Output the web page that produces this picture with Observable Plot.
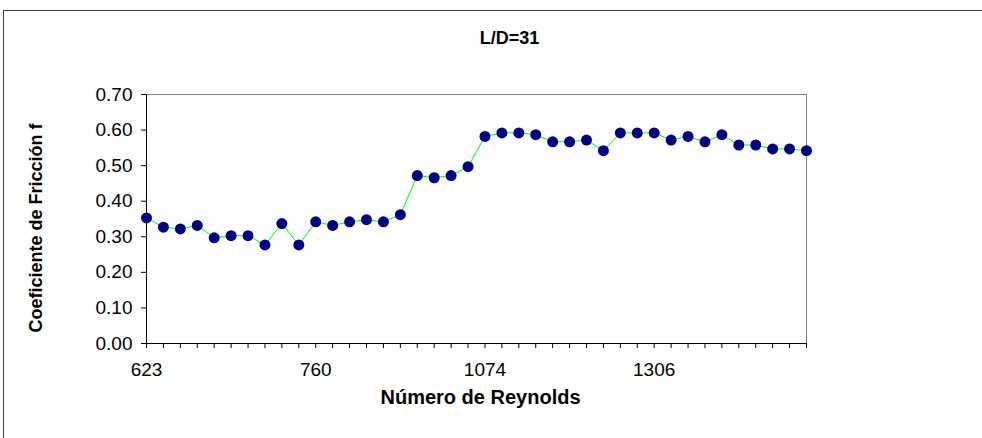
<!DOCTYPE html>
<html>
<head>
<meta charset="utf-8">
<script src="https://cdn.jsdelivr.net/npm/d3@7"></script>
<script src="https://cdn.jsdelivr.net/npm/@observablehq/plot@0.6"></script>
<style>
  html, body { margin: 0; padding: 0; background: #fff; }
  #wrap { position: relative; width: 982px; height: 438px; overflow: hidden; }
  #border { position: absolute; left: 3px; top: 10px; width: 990px; height: 450px; border: 1px solid #404040; box-sizing: border-box; pointer-events: none; }
</style>
</head>
<body>
<div id="wrap"><div id="border"></div></div>
<script>
// Category index of each measurement (Excel category axis, 40 points)
const pointIndex = d3.range(40);
// Friction coefficient f
const frictionF = [
  0.353, 0.327, 0.322, 0.332, 0.297, 0.303, 0.303, 0.277, 0.337, 0.277,
  0.342, 0.332, 0.342, 0.348, 0.342, 0.362, 0.472, 0.466, 0.472, 0.497,
  0.582, 0.592, 0.592, 0.587, 0.567, 0.567, 0.572, 0.542, 0.592, 0.592,
  0.592, 0.572, 0.582, 0.567, 0.587, 0.558, 0.558, 0.547, 0.547, 0.542
];
// Visible Reynolds tick labels and their category positions
const reynoldsLabels = ["623", "760", "1074", "1306"];
const reynoldsLabelIndex = [0, 10, 20, 30];
const yTicks = [0, 0.1, 0.2, 0.3, 0.4, 0.5, 0.6, 0.7];
const titleText = "L/D=31";
const xTitle = "Número de Reynolds";
const yTitle = "Coeficiente de Fricción f";

const data = pointIndex.map((i) => ({i, f: frictionF[i]}));
const labelMap = new Map(reynoldsLabelIndex.map((k, j) => [k, reynoldsLabels[j]]));

const chart = Plot.plot({
  width: 982,
  height: 438,
  marginLeft: 146,
  marginRight: 176,
  marginTop: 94,
  marginBottom: 95,
  style: {fontFamily: "'Liberation Sans', Arial, sans-serif", fontSize: "19px", background: "transparent", color: "#000"},
  x: {domain: [0, 39]},
  y: {domain: [0, 0.7]},
  marks: [
    Plot.frame({stroke: "#808080", strokeWidth: 1}),
    Plot.axisX({ticks: pointIndex, tickFormat: (i) => labelMap.get(i) ?? "", tickSize: 5, tickPadding: 14, fontSize: 19, label: null, stroke: "#000"}),
    Plot.axisY({ticks: yTicks, tickFormat: (d) => d.toFixed(2), tickSize: 5, tickPadding: 9, fontSize: 19, label: null, stroke: "#000"}),
    Plot.ruleY([0], {stroke: "#000"}),
    Plot.ruleX([0], {stroke: "#000"}),
    Plot.line(data, {x: "i", y: "f", stroke: "#00ff00", strokeWidth: 1}),
    Plot.dot(data, {x: "i", y: "f", r: 5.5, fill: "#000080", stroke: "none"}),
    Plot.text([titleText], {frameAnchor: "top", lineAnchor: "middle", textAnchor: "middle", dx: 33, dy: -56, fontWeight: "bold", fontSize: 18}),
    Plot.text([xTitle], {frameAnchor: "bottom", lineAnchor: "middle", textAnchor: "middle", dx: 4, dy: 54, fontWeight: "bold", fontSize: 20}),
    Plot.text([yTitle], {frameAnchor: "left", lineAnchor: "middle", textAnchor: "middle", dx: -110, dy: 9, rotate: -90, fontWeight: "bold", fontSize: 18})
  ]
});
document.getElementById("wrap").prepend(chart);
</script>
</body>
</html>
